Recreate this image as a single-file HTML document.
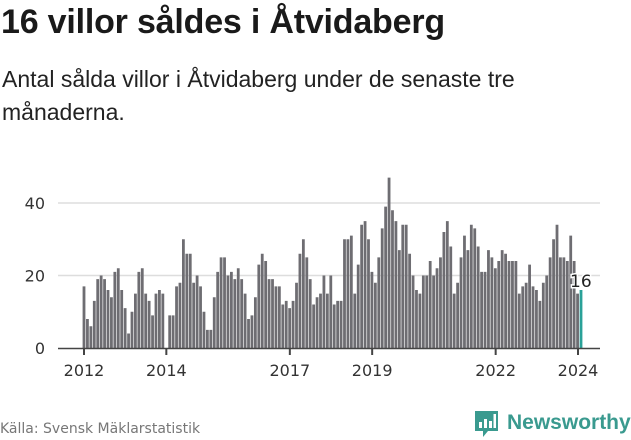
<!DOCTYPE html>
<html><head><meta charset="utf-8">
<style>
body{margin:0;width:631px;height:439px;background:#fff;font-family:"Liberation Sans","DejaVu Sans",sans-serif;overflow:hidden;position:relative}
#title{position:absolute;left:1px;top:3px;font-size:34px;font-weight:bold;color:#1a1a1a;margin:0;letter-spacing:-0.2px}
#sub{position:absolute;left:2px;top:63px;font-size:23px;line-height:33px;color:#222;width:545px}
#src{position:absolute;left:0;top:421px;font-size:14px;color:#777;font-family:"DejaVu Sans",sans-serif}
#logo{position:absolute;left:474px;top:408px}
</style></head><body>
<h1 id="title">16 villor såldes i Åtvidaberg</h1>
<div id="sub">Antal sålda villor i Åtvidaberg under de senaste tre månaderna.</div>
<svg id="chart" width="631" height="439" style="position:absolute;left:0;top:0">
<g id="grid"></g><g id="bars"></g><g id="axis"></g>
</svg>
<div id="src">Källa: Svensk Mäklarstatistik</div>
<svg id="logo" width="157" height="32">
<path d="M1 3h23v20h-10l-5 6v-6h-8z" fill="#3a9a8f"/>
<rect x="5" y="14" width="3" height="6" fill="#fff"/><rect x="10" y="11" width="3" height="9" fill="#fff"/><rect x="15" y="13" width="3" height="7" fill="#fff"/><rect x="19.5" y="6" width="2.5" height="14" fill="#fff"/>
<text x="33" y="21" font-size="21" font-weight="bold" fill="#3a9a8f" font-family="Liberation Sans, sans-serif">Newsworthy</text>
</svg>
<script>
const values=[17,8,6,13,19,20,19,16,14,21,22,16,11,4,10,15,21,22,15,13,9,15,16,15,0,9,9,17,18,30,26,26,18,20,17,10,5,5,14,21,25,25,20,21,19,22,19,15,8,9,14,23,26,24,19,19,17,17,12,13,11,13,18,26,30,25,19,12,14,15,20,15,20,12,13,13,30,30,31,15,23,34,35,30,21,18,25,33,39,47,38,35,27,34,34,26,20,16,15,20,20,24,20,22,25,32,35,28,15,18,25,31,27,34,33,28,21,21,27,25,22,24,27,26,24,24,24,15,17,18,23,17,16,13,18,20,25,30,34,25,25,24,31,24,15,16];
const yTicks=[0,20,40];
const years=[2012,2014,2017,2019,2022,2024];
const NS="http://www.w3.org/2000/svg";
const y=v=>348-v*3.625;
const x0=84,x1=581;
const step=(x1-x0)/(values.length-1);
const x=i=>x0+i*step;
const yr=t=>84+(t-2012)*(578-84)/12;
function mk(tag,attrs,parent){const e=document.createElementNS(NS,tag);for(const k in attrs)e.setAttribute(k,attrs[k]);document.getElementById(parent).appendChild(e);return e;}
yTicks.forEach(t=>{
 if(t>0){const g=mk('line',{x1:58,x2:600,y1:y(t),y2:y(t),stroke:'#ddd','stroke-width':1.5},'grid');
 
 }
 const l=mk('text',{x:45,y:y(t)+6,'text-anchor':'end','font-size':16,fill:'#333','font-family':'DejaVu Sans, sans-serif'},'axis');l.textContent=t;
 
 
});
values.forEach((v,i)=>{
 const last=i===values.length-1;
 const r=mk('rect',{x:x(i)-1.4,y:y(v),width:2.8,height:348-y(v),fill:last?'#2aa198':'#6e6d72'},'bars');
 
 
});
const li=values.length-1;
const lab=mk('text',{x:x(li)-11,y:y(values[li])-3,'font-size':17,fill:'#222',stroke:'#fff','stroke-width':3,'paint-order':'stroke','font-family':'DejaVu Sans, sans-serif'},'axis');
lab.textContent=values[li];


const base=mk('line',{x1:58,x2:600,y1:348.5,y2:348.5,stroke:'#444','stroke-width':1.5},'axis');


years.forEach(t=>{
 const tk=mk('line',{x1:yr(t),x2:yr(t),y1:348,y2:355,stroke:'#444','stroke-width':2},'axis');
 
 
 const l=mk('text',{x:yr(t),y:376,'text-anchor':'middle','font-size':16,fill:'#333','font-family':'DejaVu Sans, sans-serif'},'axis');l.textContent=t;
 
 
});
</script>
</body></html>
